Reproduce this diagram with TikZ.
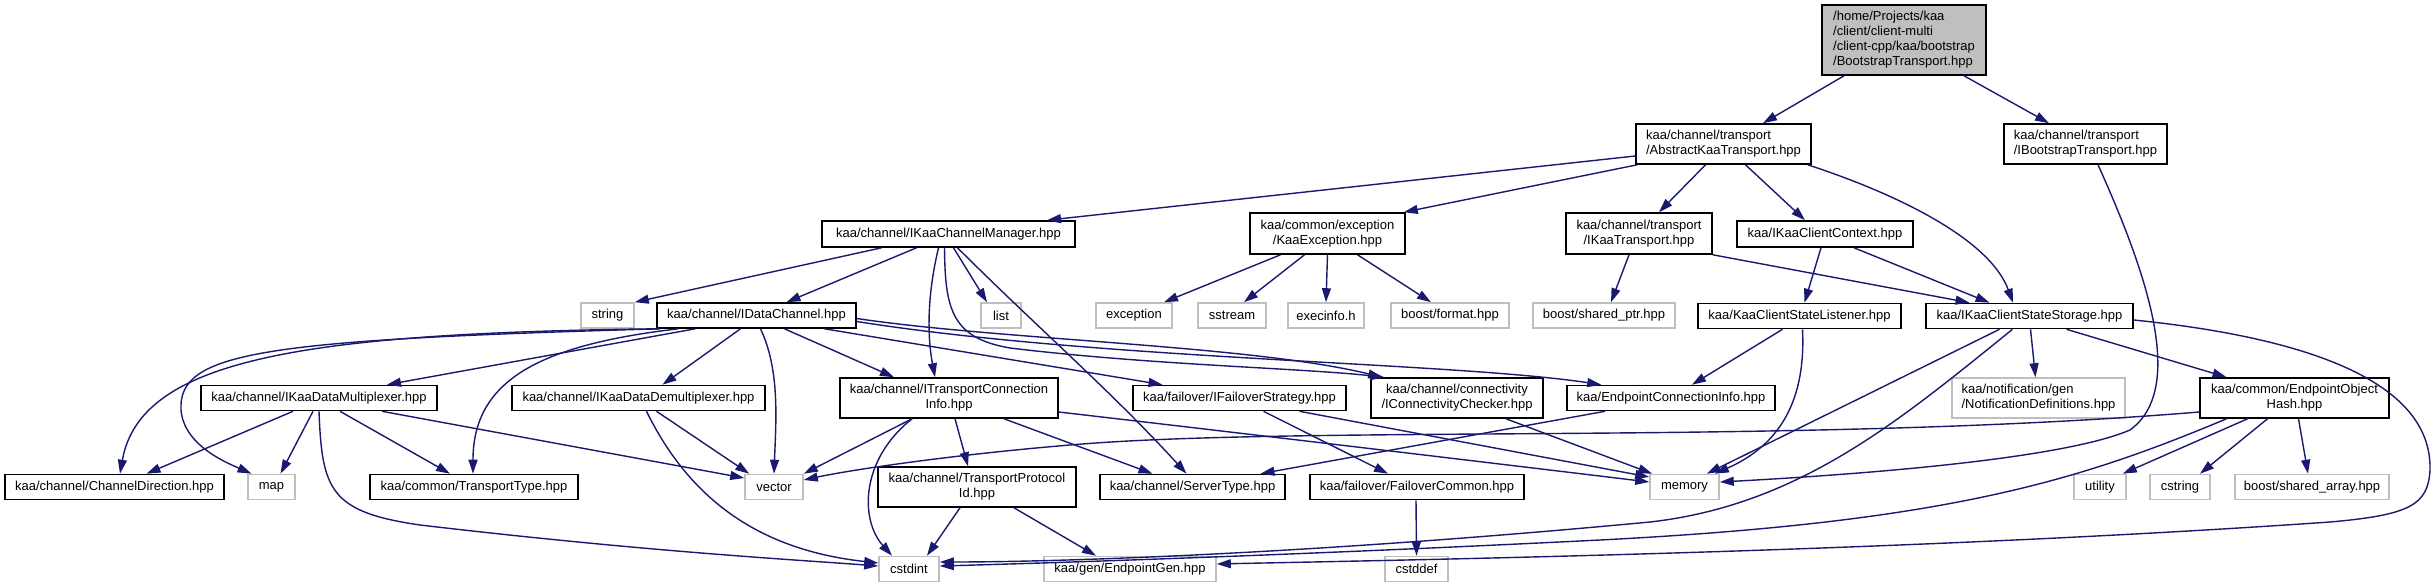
\documentclass[tikz,border=0pt]{standalone}
\usepackage{fontspec}
\setmainfont{Liberation Sans}
\usetikzlibrary{arrows.meta}
\definecolor{edgeblue}{HTML}{191970}
\definecolor{extgray}{HTML}{BFBFBF}
\definecolor{rootfill}{HTML}{BFBFBF}
\newcommand{\lblfont}{\fontsize{13}{15}\selectfont}
\begin{document}
\begin{tikzpicture}[x=1pt,y=-1pt,
  box/.style={draw=black, line width=1.6pt, inner sep=0pt, font=\lblfont, align=center, minimum height=25},
  ext/.style={draw=extgray, line width=1.6pt, inner sep=0pt, font=\lblfont, align=center, minimum height=25},
  rootbox/.style={box, fill=rootfill},
  dep/.style={draw=edgeblue, line width=1.4pt, -{Triangle[length=14pt,width=9pt]}}]
\fill[white] (0,0) rectangle (2436,588);
\useasboundingbox (0,0) rectangle (2436,588);
% row 0
\node[rootbox, minimum width=164, minimum height=70, align=left] (root) at (1904,40) {/home/Projects/kaa\\/client/client-multi\\/client-cpp/kaa/bootstrap\\/BootstrapTransport.hpp};
% row 1
\node[box, minimum width=175, minimum height=40, align=left] (abs) at (1723.5,144) {kaa/channel/transport\\/AbstractKaaTransport.hpp};
\node[box, minimum width=163, minimum height=40, align=left] (iboot) at (2085.5,144) {kaa/channel/transport\\/IBootstrapTransport.hpp};
% row 2
\node[box, minimum width=253, minimum height=26] (chmgr) at (948.5,234) {kaa/channel/IKaaChannelManager.hpp};
\node[box, minimum width=155, minimum height=41] (kexc) at (1327.5,233.5) {kaa/common/exception\\/KaaException.hpp};
\node[box, minimum width=146, minimum height=41] (ikt) at (1639,233.5) {kaa/channel/transport\\/IKaaTransport.hpp};
\node[box, minimum width=176, minimum height=26] (ictx) at (1825,234) {kaa/IKaaClientContext.hpp};
% row 3
\node[ext, minimum width=53] (string) at (607.5,315.5) {string};
\node[box, minimum width=199] (idc) at (756.5,315.5) {kaa/channel/IDataChannel.hpp};
\node[ext, minimum width=40] (list) at (1001,315.5) {list};
\node[ext, minimum width=76] (exception) at (1134,315.5) {exception};
\node[ext, minimum width=68] (sstream) at (1232,315.5) {sstream};
\node[ext, minimum width=76] (execinfo) at (1326,315.5) {execinfo.h};
\node[ext, minimum width=118] (bformat) at (1450,315.5) {boost/format.hpp};
\node[ext, minimum width=142] (bsptr) at (1604,315.5) {boost/shared\_ptr.hpp};
\node[box, minimum width=203] (kcsl) at (1799.5,316) {kaa/KaaClientStateListener.hpp};
\node[box, minimum width=207] (ikcss) at (2029.5,316) {kaa/IKaaClientStateStorage.hpp};
% row 4
\node[box, minimum width=236] (mux) at (319,398) {kaa/channel/IKaaDataMultiplexer.hpp};
\node[box, minimum width=253] (demux) at (638.5,398) {kaa/channel/IKaaDataDemultiplexer.hpp};
\node[box, minimum width=218, minimum height=40] (itc) at (949,398) {kaa/channel/ITransportConnection\\Info.hpp};
\node[box, minimum width=213] (ifs) at (1239.5,398) {kaa/failover/IFailoverStrategy.hpp};
\node[box, minimum width=172, minimum height=40] (icc) at (1457,398) {kaa/channel/connectivity\\/IConnectivityChecker.hpp};
\node[box, minimum width=208] (eci) at (1671,398) {kaa/EndpointConnectionInfo.hpp};
\node[ext, minimum width=173, minimum height=40, align=left] (notif) at (2038.5,398) {kaa/notification/gen\\/NotificationDefinitions.hpp};
\node[box, minimum width=189, minimum height=40] (eoh) at (2294.5,398) {kaa/common/EndpointObject\\Hash.hpp};
% row 5
\node[box, minimum width=219] (chdir) at (114.5,487) {kaa/channel/ChannelDirection.hpp};
\node[ext, minimum width=47] (map) at (271.5,487) {map};
\node[box, minimum width=208] (ttype) at (474,487) {kaa/common/TransportType.hpp};
\node[ext, minimum width=58] (vector) at (774,487) {vector};
\node[box, minimum width=198, minimum height=40] (tpid) at (977,487) {kaa/channel/TransportProtocol\\Id.hpp};
\node[box, minimum width=185] (stype) at (1192.5,487) {kaa/channel/ServerType.hpp};
\node[box, minimum width=214] (fcommon) at (1417,487) {kaa/failover/FailoverCommon.hpp};
\node[ext, minimum width=69] (memory) at (1684.5,487) {memory};
\node[ext, minimum width=52] (utility) at (2100,487) {utility};
\node[ext, minimum width=60] (cstring) at (2180,487) {cstring};
\node[ext, minimum width=154] (bsarr) at (2312,487) {boost/shared\_array.hpp};
% row 6
\node[ext, minimum width=60] (cstdint) at (909,569) {cstdint};
\node[ext, minimum width=172] (epgen) at (1130,569) {kaa/gen/EndpointGen.hpp};
\node[ext, minimum width=63] (cstddef) at (1416.5,569) {cstddef};
% edges
\draw[dep] ([xshift=-60]root.south) -- ([xshift=39.5]abs.north);
\draw[dep] ([xshift=60]root.south) -- ([xshift=-36.5]iboot.north);
\draw[dep] ([yshift=-12]abs.west) -- ([xshift=98.5]chmgr.north);
\draw[dep] ([xshift=2]abs.south west) -- ([xshift=-2]kexc.north east);
\draw[dep] ([xshift=-18]abs.south) -- ([xshift=20]ikt.north);
\draw[dep] ([xshift=22]abs.south) -- ([xshift=-20]ictx.north);
\draw[dep] ([xshift=-4]abs.south east) .. controls (1900,195) and (1990,240) .. ([xshift=-16.5]ikcss.north);
\draw[dep] ([xshift=12.5]iboot.south) .. controls (2150,280) and (2185,390) .. (2130,430) .. controls (2060,460) and (1850,475) .. ([yshift=5]memory.east);
\draw[dep] ([xshift=-67]chmgr.south) -- (string.north east);
\draw[dep] ([xshift=-32]chmgr.south) -- ([xshift=30]idc.north);
\draw[dep] ([xshift=5]chmgr.south) -- ([xshift=-14]list.north);
\draw[dep] ([xshift=-10]chmgr.south) .. controls (926,300) and (928,340) .. ([xshift=-14]itc.north);
\draw[dep] ([xshift=-4]chmgr.south) .. controls (945,310) and (952,338) .. (1010,348) .. controls (1150,365) and (1300,368) .. ([xshift=14]icc.north west);
\draw[dep] ([xshift=9]chmgr.south) .. controls (1040,330) and (1110,390) .. ([xshift=-6]stype.north);
\draw[dep] ([xshift=2]idc.south west) .. controls (300,333) and (140,360) .. ([xshift=5.5]chdir.north);
\draw[dep] ([xshift=4]idc.south west) .. controls (260,340) and (178,352) .. (181,410) .. controls (184,445) and (225,462) .. ([xshift=-20]map.north);
\draw[dep] ([xshift=39]idc.south west) -- ([xshift=68]mux.north);
\draw[dep] ([xshift=22]idc.south west) .. controls (540,345) and (473,380) .. ([xshift=-1]ttype.north);
\draw[dep] ([xshift=-16]idc.south) -- ([xshift=24]demux.north);
\draw[dep] ([xshift=4]idc.south) .. controls (780,370) and (776,420) .. (vector.north);
\draw[dep] ([xshift=28]idc.south) -- ([xshift=-55]itc.north);
\draw[dep] ([xshift=68]idc.south) -- ([xshift=-77]ifs.north);
\draw[dep] ([yshift=-3]idc.east) .. controls (1000,340) and (1250,345) .. ([xshift=12]icc.north west);
\draw[dep] ([yshift=-6]idc.east) .. controls (1100,360) and (1450,362) .. ([xshift=35]eci.north west);
\draw[dep] ([xshift=-26]mux.south) -- ([xshift=32]chdir.north);
\draw[dep] ([xshift=-6]mux.south) -- ([xshift=9]map.north);
\draw[dep] ([xshift=21]mux.south) -- ([xshift=-24]ttype.north);
\draw[dep] ([xshift=63]mux.south) -- ([yshift=9]vector.west);
\draw[dep] (mux.south) .. controls (322,490) and (330,512) .. (420,525) .. controls (650,552) and (800,560) .. ([yshift=3]cstdint.west);
\draw[dep] ([xshift=18]demux.south) -- ([xshift=5]vector.north west);
\draw[dep] ([xshift=8]demux.south) .. controls (690,500) and (760,550) .. ([yshift=6]cstdint.west);
\draw[dep] ([xshift=-37]itc.south) -- (vector.north east);
\draw[dep] ([xshift=-37]itc.south) .. controls (860,460) and (860,520) .. ([xshift=-17]cstdint.north);
\draw[dep] ([xshift=6]itc.south) -- ([xshift=-9]tpid.north);
\draw[dep] ([xshift=55]itc.south) -- ([xshift=-40]stype.north);
\draw[dep] ([yshift=-14]itc.east) .. controls (1300,440) and (1550,470) .. ([yshift=5]memory.west);
\draw[dep] ([xshift=-17]tpid.south) -- ([xshift=18]cstdint.north);
\draw[dep] ([xshift=37]tpid.south) -- ([xshift=-34]epgen.north);
\draw[dep] ([xshift=24]ifs.south) -- ([xshift=-29]fcommon.north);
\draw[dep] ([xshift=60]ifs.south) -- ([yshift=10]memory.west);
\draw[dep] ([xshift=49]icc.south) -- ([xshift=3]memory.north west);
\draw[dep] ([xshift=-66]eci.south) -- ([xshift=68]stype.north);
\draw[dep] ([xshift=-47]kexc.south) -- ([xshift=30]exception.north);
\draw[dep] ([xshift=-23]kexc.south) -- ([xshift=12]sstream.north);
\draw[dep] (kexc.south) -- (execinfo.north);
\draw[dep] ([xshift=30]kexc.south) -- ([xshift=-19]bformat.north);
\draw[dep] ([xshift=-10]ikt.south) -- ([xshift=7]bsptr.north);
\draw[dep] (ikt.south east) -- ([xshift=-60]ikcss.north);
\draw[dep] ([xshift=-4]ictx.south) -- ([xshift=5]kcsl.north);
\draw[dep] ([xshift=29]ictx.south) -- ([xshift=-40]ikcss.north);
\draw[dep] ([xshift=-17]kcsl.south) -- ([xshift=21]eci.north);
\draw[dep] ([xshift=3]kcsl.south) .. controls (1806,400) and (1780,445) .. ([xshift=-5]memory.north east);
\draw[dep] ([xshift=-30]ikcss.south) -- ([xshift=-13]memory.north east);
\draw[dep] ([xshift=-17]ikcss.south) .. controls (1900,420) and (1800,505) .. (1650,522) .. controls (1300,555) and (1050,562) .. ([yshift=7]cstdint.east);
\draw[dep] ([xshift=1]ikcss.south) -- ([xshift=-3]notif.north);
\draw[dep] ([xshift=37]ikcss.south) -- ([xshift=-68]eoh.north);
\draw[dep] ([yshift=-4]ikcss.east) .. controls (2330,340) and (2432,390) .. (2430,470) .. controls (2428,505) and (2410,515) .. (2330,522) .. controls (1900,552) and (1400,560) .. ([yshift=5]epgen.east);
\draw[dep] ([yshift=-14]eoh.west) .. controls (1800,445) and (1300,425) .. (1070,445) .. controls (950,455) and (850,470) .. ([yshift=7]vector.east);
\draw[dep] ([xshift=-68]eoh.south) .. controls (2080,480) and (1950,522) .. (1600,540) .. controls (1300,555) and (1050,563) .. ([yshift=3]cstdint.east);
\draw[dep] ([xshift=-47]eoh.south) -- ([xshift=-4]utility.north east);
\draw[dep] ([xshift=-27]eoh.south) -- ([xshift=20]cstring.north);
\draw[dep] ([xshift=4]eoh.south) -- ([xshift=-4]bsarr.north);
\draw[dep] ([xshift=-1]fcommon.south) -- (cstddef.north);
\end{tikzpicture}
\end{document}
